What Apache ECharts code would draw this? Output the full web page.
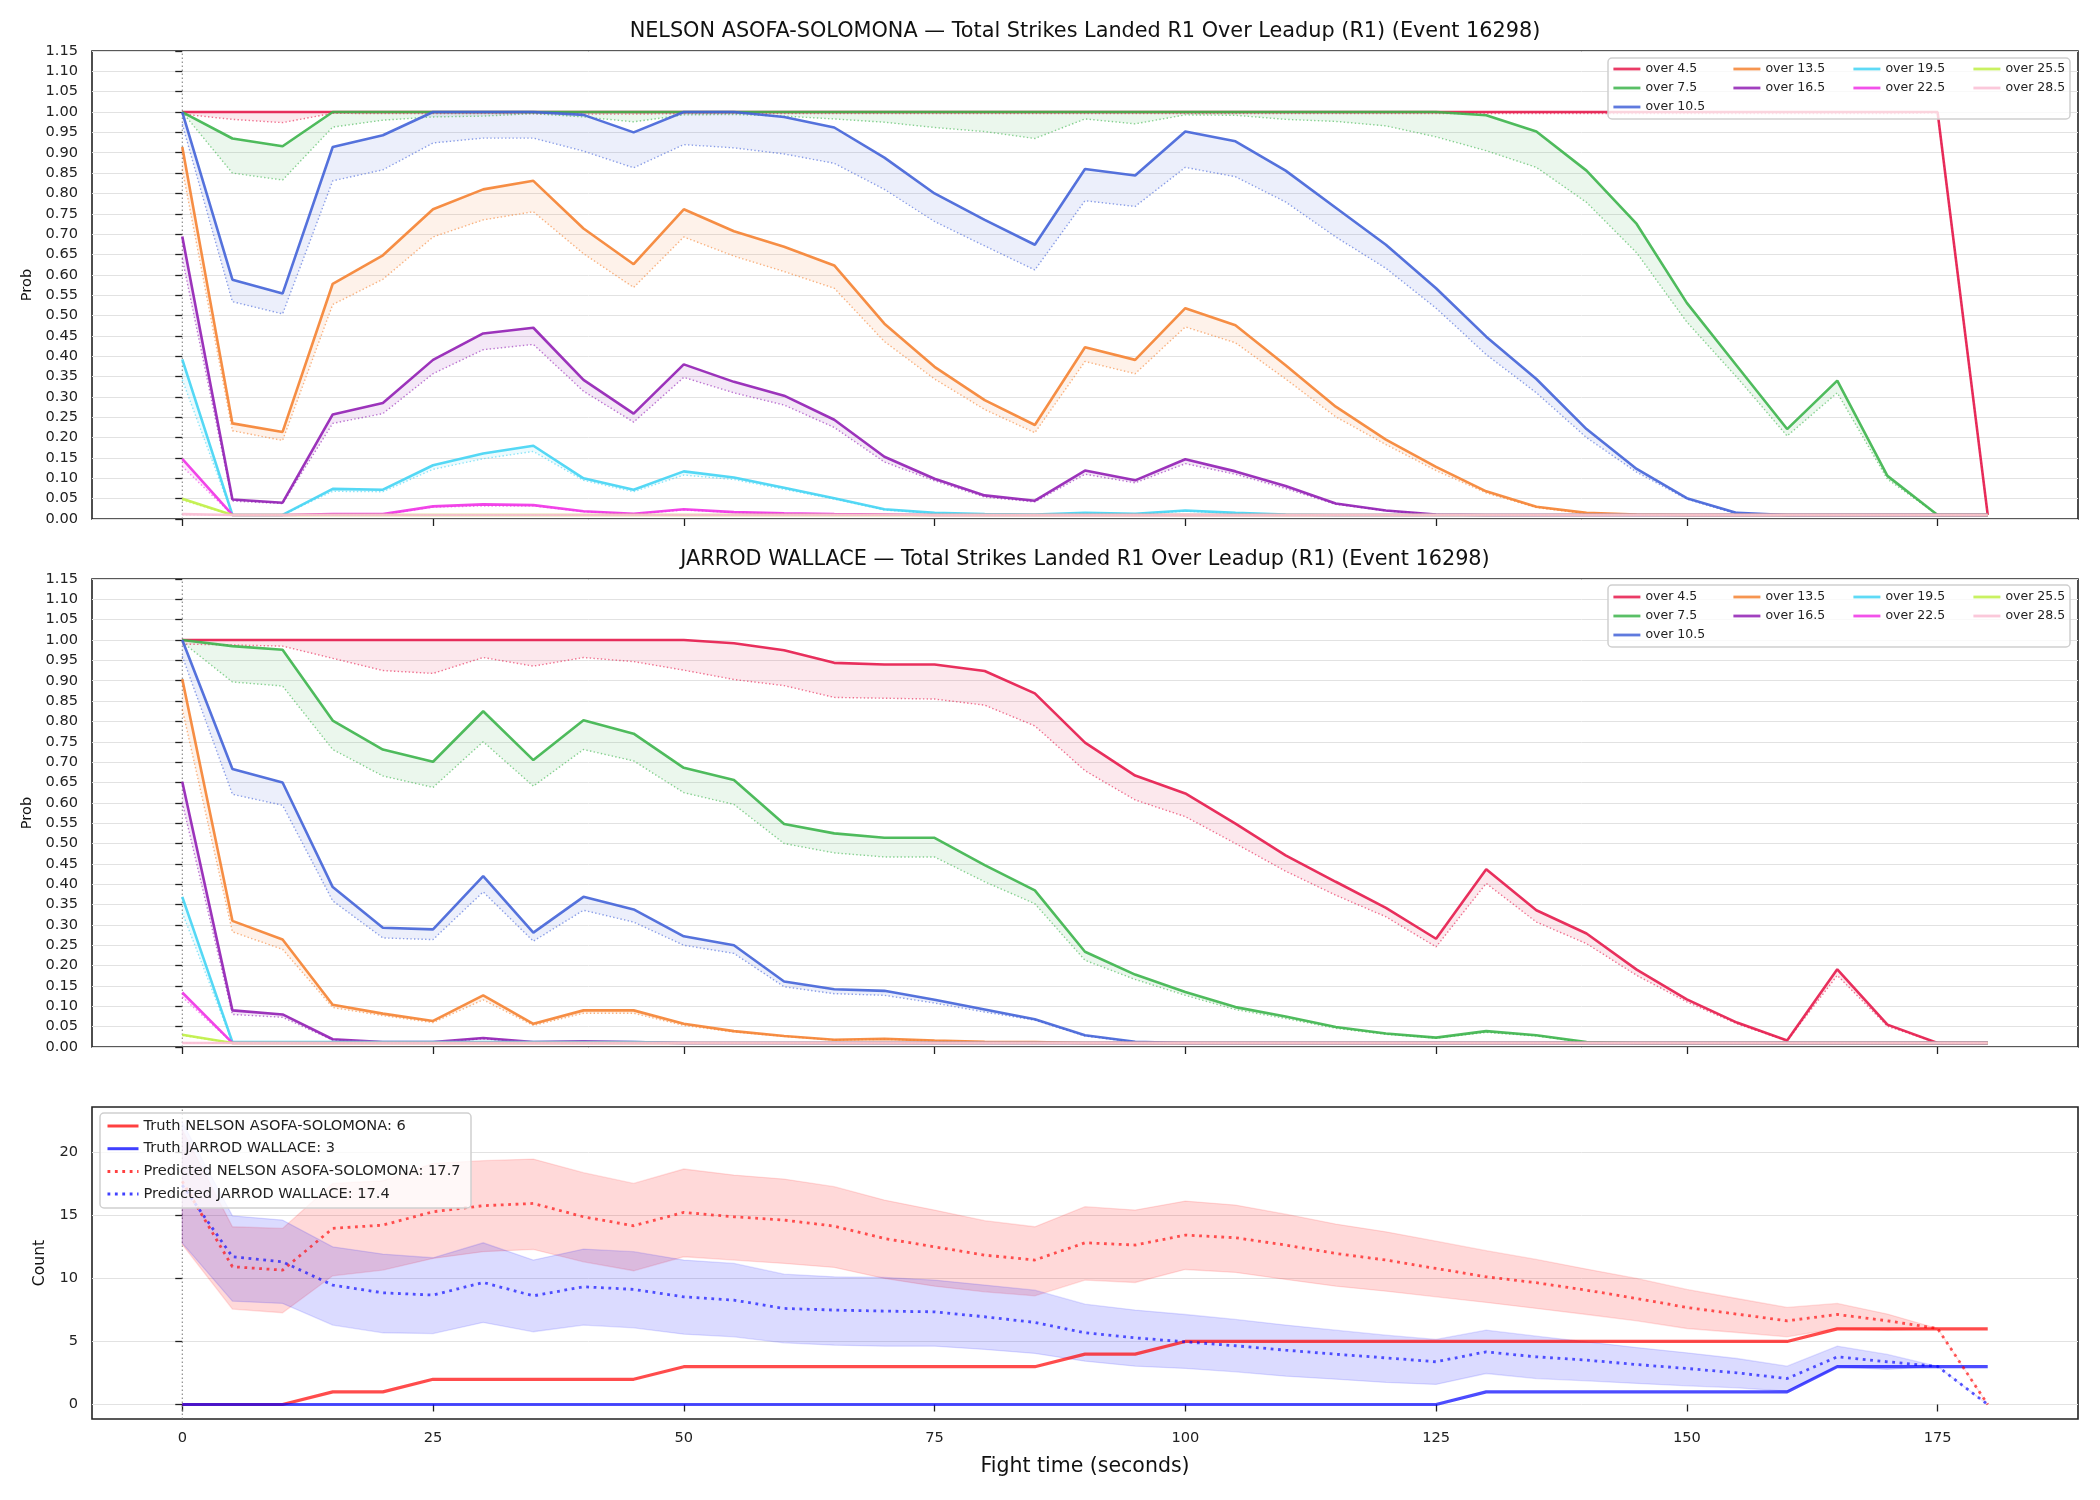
<!DOCTYPE html>
<html><head><meta charset="utf-8">
<script src="https://cdn.jsdelivr.net/npm/echarts@6/dist/echarts.min.js"></script>
<style>html,body{margin:0;padding:0;background:#fff}#c{width:2100px;height:1500px}</style>
</head><body><div id="c"></div>
<script>
// ---------- DATA ----------
const T = [0,5,10,15,20,25,30,35,40,45,50,55,60,65,70,75,80,85,90,95,100,105,110,115,120,125,130,135,140,145,150,155,160,165,170,175,180];
const THRESH = ['over 4.5','over 7.5','over 10.5','over 13.5','over 16.5','over 19.5','over 22.5','over 25.5','over 28.5'];

// NELSON ASOFA-SOLOMONA (solid = s, dotted = d)
const nel45s = [1,1,1,1,1,1,1,1,1,1, 1,1,1,1,1,1,1,1,1,1, 1,1,1,1,1,1,1,1,1,1, 1,1,1,1,1,1,0.01];
const nel45d = [0.995,0.982,0.974,0.997,0.996,0.996,0.996,0.996,0.995,0.995, 0.996,0.996,0.996,0.996,0.996,0.996,0.996,0.996,0.996,0.996, 0.996,0.996,0.996,0.996,0.996,0.996,0.996,0.996,0.996,0.996, 0.996,0.996,0.996,0.996,0.996,0.998,0.01];
const nel75s = [1,0.935,0.916,1,1,1,1,1,1,1, 1,1,1,1,1,1,1,1,1,1, 1,1,1,1,1,1,0.992,0.952,0.856,0.725, 0.531,0.376,0.221,0.34,0.106,0.01,0.01];
const nel75d = [1,0.85,0.833,0.963,0.98,0.988,0.99,0.996,0.988,0.976, 0.993,0.994,0.99,0.983,0.975,0.962,0.952,0.935,0.983,0.971, 0.993,0.992,0.982,0.977,0.966,0.939,0.905,0.864,0.778,0.654, 0.484,0.348,0.204,0.31,0.098,0.01,0.01];
const nel105s = [1,0.588,0.554,0.914,0.943,1,1,1,0.993,0.95, 1,1,0.988,0.962,0.888,0.8,0.735,0.674,0.86,0.844, 0.952,0.928,0.856,0.765,0.674,0.567,0.448,0.344,0.221,0.123, 0.051,0.015,0.01,0.01,0.01,0.01,0.01];
const nel105d = [0.97,0.534,0.504,0.831,0.858,0.924,0.936,0.936,0.904,0.863, 0.92,0.912,0.897,0.874,0.81,0.731,0.671,0.612,0.782,0.768, 0.864,0.841,0.779,0.693,0.616,0.518,0.404,0.31,0.2,0.115, 0.049,0.012,0.01,0.01,0.01,0.01,0.01];
const nel135s = [0.914,0.235,0.214,0.578,0.648,0.761,0.81,0.831,0.714,0.626, 0.761,0.707,0.669,0.623,0.48,0.374,0.292,0.231,0.422,0.391, 0.518,0.476,0.378,0.276,0.195,0.128,0.068,0.03,0.015,0.011, 0.01,0.01,0.01,0.01,0.01,0.01,0.01];
const nel135d = [0.86,0.217,0.193,0.527,0.589,0.693,0.735,0.755,0.652,0.569, 0.693,0.646,0.608,0.567,0.436,0.344,0.269,0.212,0.387,0.357, 0.472,0.433,0.344,0.251,0.183,0.119,0.064,0.028,0.013,0.01, 0.01,0.01,0.01,0.01,0.01,0.01,0.01];
const nel165s = [0.694,0.048,0.04,0.257,0.285,0.391,0.456,0.47,0.342,0.259, 0.38,0.337,0.303,0.244,0.153,0.099,0.058,0.045,0.119,0.095, 0.147,0.117,0.081,0.038,0.021,0.011,0.01,0.01,0.01,0.01, 0.01,0.01,0.01,0.01,0.01,0.01,0.01];
const nel165d = [0.64,0.044,0.038,0.235,0.259,0.357,0.416,0.429,0.314,0.238, 0.348,0.31,0.28,0.225,0.14,0.094,0.054,0.042,0.11,0.089, 0.136,0.11,0.075,0.036,0.02,0.011,0.01,0.01,0.01,0.01, 0.01,0.01,0.01,0.01,0.01,0.01,0.01];
const nel195s = [0.392,0.01,0.01,0.074,0.072,0.132,0.161,0.18,0.1,0.072, 0.117,0.102,0.077,0.051,0.024,0.015,0.012,0.011,0.015,0.013, 0.021,0.015,0.011,0.01,0.01,0.01,0.01,0.01,0.01,0.01, 0.01,0.01,0.01,0.01,0.01,0.01,0.01];
const nel195d = [0.342,0.01,0.01,0.068,0.067,0.122,0.148,0.166,0.095,0.067, 0.108,0.097,0.073,0.049,0.022,0.014,0.011,0.01,0.014,0.012, 0.019,0.014,0.01,0.01,0.01,0.01,0.01,0.01,0.01,0.01, 0.01,0.01,0.01,0.01,0.01,0.01,0.01];
const nel225s = [0.148,0.01,0.01,0.012,0.012,0.031,0.036,0.034,0.019,0.013, 0.024,0.017,0.014,0.012,0.011,0.01,0.01,0.01,0.01,0.01, 0.01,0.01,0.01,0.01,0.01,0.01,0.01,0.01,0.01,0.01, 0.01,0.01,0.01,0.01,0.01,0.01,0.01];
const nel225d = [0.129,0.01,0.01,0.011,0.011,0.029,0.032,0.032,0.018,0.012, 0.022,0.016,0.013,0.011,0.01,0.01,0.01,0.01,0.01,0.01, 0.01,0.01,0.01,0.01,0.01,0.01,0.01,0.01,0.01,0.01, 0.01,0.01,0.01,0.01,0.01,0.01,0.01];
const nel255s = [0.05,0.01,0.01,0.01,0.01,0.01,0.01,0.01,0.01,0.01, 0.01,0.01,0.01,0.01,0.01,0.01,0.01,0.01,0.01,0.01, 0.01,0.01,0.01,0.01,0.01,0.01,0.01,0.01,0.01,0.01, 0.01,0.01,0.01,0.01,0.01,0.01,0.01];
const nel255d = [0.046,0.01,0.01,0.01,0.01,0.01,0.01,0.01,0.01,0.01, 0.01,0.01,0.01,0.01,0.01,0.01,0.01,0.01,0.01,0.01, 0.01,0.01,0.01,0.01,0.01,0.01,0.01,0.01,0.01,0.01, 0.01,0.01,0.01,0.01,0.01,0.01,0.01];
const nel285s = [0.012,0.01,0.01,0.01,0.01,0.01,0.01,0.01,0.01,0.01, 0.01,0.01,0.01,0.01,0.01,0.01,0.01,0.01,0.01,0.01, 0.01,0.01,0.01,0.01,0.01,0.01,0.01,0.01,0.01,0.01, 0.01,0.01,0.01,0.01,0.01,0.01,0.01];
const nel285d = [0.01,0.01,0.01,0.01,0.01,0.01,0.01,0.01,0.01,0.01, 0.01,0.01,0.01,0.01,0.01,0.01,0.01,0.01,0.01,0.01, 0.01,0.01,0.01,0.01,0.01,0.01,0.01,0.01,0.01,0.01, 0.01,0.01,0.01,0.01,0.01,0.01,0.01];

// JARROD WALLACE
const jar45s = [1,1,1,1,1,1,1,1,1,1, 1,0.992,0.975,0.944,0.94,0.94,0.924,0.869,0.748,0.667, 0.623,0.549,0.471,0.406,0.342,0.266,0.437,0.336,0.279,0.19, 0.117,0.06,0.016,0.191,0.055,0.01,0.01];
const jar45d = [0.99,0.988,0.985,0.955,0.925,0.918,0.957,0.936,0.957,0.947, 0.926,0.903,0.888,0.859,0.857,0.855,0.84,0.789,0.679,0.607, 0.566,0.5,0.432,0.373,0.32,0.246,0.402,0.307,0.254,0.176, 0.111,0.057,0.015,0.176,0.051,0.01,0.01];
const jar75s = [1,0.985,0.976,0.802,0.731,0.701,0.825,0.705,0.803,0.77, 0.686,0.656,0.548,0.525,0.514,0.514,0.447,0.385,0.234,0.178, 0.135,0.098,0.075,0.049,0.033,0.023,0.039,0.029,0.012,0.01, 0.01,0.01,0.01,0.01,0.01,0.01,0.01];
const jar75d = [0.995,0.897,0.887,0.731,0.666,0.638,0.75,0.641,0.731,0.703, 0.625,0.596,0.5,0.477,0.467,0.467,0.406,0.352,0.213,0.166, 0.127,0.092,0.07,0.046,0.031,0.022,0.036,0.027,0.011,0.01, 0.01,0.01,0.01,0.01,0.01,0.01,0.01];
const jar105s = [1,0.683,0.65,0.393,0.293,0.289,0.42,0.281,0.369,0.338, 0.272,0.25,0.161,0.142,0.138,0.116,0.092,0.068,0.029,0.013, 0.01,0.01,0.01,0.01,0.01,0.01,0.01,0.01,0.01,0.01, 0.01,0.01,0.01,0.01,0.01,0.01,0.01];
const jar105d = [0.96,0.621,0.594,0.359,0.268,0.264,0.381,0.26,0.336,0.307, 0.25,0.23,0.148,0.131,0.127,0.108,0.086,0.066,0.027,0.012, 0.01,0.01,0.01,0.01,0.01,0.01,0.01,0.01,0.01,0.01, 0.01,0.01,0.01,0.01,0.01,0.01,0.01];
const jar135s = [0.904,0.31,0.264,0.104,0.082,0.064,0.127,0.057,0.09,0.09, 0.057,0.039,0.027,0.018,0.02,0.016,0.013,0.012,0.01,0.01, 0.01,0.01,0.01,0.01,0.01,0.01,0.01,0.01,0.01,0.01, 0.01,0.01,0.01,0.01,0.01,0.01,0.01];
const jar135d = [0.83,0.283,0.24,0.097,0.077,0.06,0.116,0.053,0.083,0.083, 0.053,0.037,0.026,0.017,0.019,0.015,0.012,0.011,0.01,0.01, 0.01,0.01,0.01,0.01,0.01,0.01,0.01,0.01,0.01,0.01, 0.01,0.01,0.01,0.01,0.01,0.01,0.01];
const jar165s = [0.652,0.09,0.08,0.019,0.012,0.012,0.022,0.012,0.014,0.012, 0.01,0.01,0.01,0.01,0.01,0.01,0.01,0.01,0.01,0.01, 0.01,0.01,0.01,0.01,0.01,0.01,0.01,0.01,0.01,0.01, 0.01,0.01,0.01,0.01,0.01,0.01,0.01];
const jar165d = [0.6,0.08,0.073,0.017,0.011,0.011,0.02,0.011,0.013,0.011, 0.01,0.01,0.01,0.01,0.01,0.01,0.01,0.01,0.01,0.01, 0.01,0.01,0.01,0.01,0.01,0.01,0.01,0.01,0.01,0.01, 0.01,0.01,0.01,0.01,0.01,0.01,0.01];
const jar195s = [0.369,0.012,0.012,0.012,0.012,0.012,0.012,0.012,0.012,0.012, 0.01,0.01,0.01,0.01,0.01,0.01,0.01,0.01,0.01,0.01, 0.01,0.01,0.01,0.01,0.01,0.01,0.01,0.01,0.01,0.01, 0.01,0.01,0.01,0.01,0.01,0.01,0.01];
const jar195d = [0.33,0.011,0.011,0.011,0.011,0.011,0.011,0.011,0.011,0.011, 0.01,0.01,0.01,0.01,0.01,0.01,0.01,0.01,0.01,0.01, 0.01,0.01,0.01,0.01,0.01,0.01,0.01,0.01,0.01,0.01, 0.01,0.01,0.01,0.01,0.01,0.01,0.01];
const jar225s = [0.134,0.01,0.01,0.01,0.01,0.01,0.01,0.01,0.01,0.01, 0.01,0.01,0.01,0.01,0.01,0.01,0.01,0.01,0.01,0.01, 0.01,0.01,0.01,0.01,0.01,0.01,0.01,0.01,0.01,0.01, 0.01,0.01,0.01,0.01,0.01,0.01,0.01];
const jar225d = [0.123,0.01,0.01,0.01,0.01,0.01,0.01,0.01,0.01,0.01, 0.01,0.01,0.01,0.01,0.01,0.01,0.01,0.01,0.01,0.01, 0.01,0.01,0.01,0.01,0.01,0.01,0.01,0.01,0.01,0.01, 0.01,0.01,0.01,0.01,0.01,0.01,0.01];
const jar255s = [0.03,0.01,0.01,0.01,0.01,0.01,0.01,0.01,0.01,0.01, 0.01,0.01,0.01,0.01,0.01,0.01,0.01,0.01,0.01,0.01, 0.01,0.01,0.01,0.01,0.01,0.01,0.01,0.01,0.01,0.01, 0.01,0.01,0.01,0.01,0.01,0.01,0.01];
const jar255d = [0.028,0.01,0.01,0.01,0.01,0.01,0.01,0.01,0.01,0.01, 0.01,0.01,0.01,0.01,0.01,0.01,0.01,0.01,0.01,0.01, 0.01,0.01,0.01,0.01,0.01,0.01,0.01,0.01,0.01,0.01, 0.01,0.01,0.01,0.01,0.01,0.01,0.01];
const jar285s = [0.01,0.01,0.01,0.01,0.01,0.01,0.01,0.01,0.01,0.01, 0.01,0.01,0.01,0.01,0.01,0.01,0.01,0.01,0.01,0.01, 0.01,0.01,0.01,0.01,0.01,0.01,0.01,0.01,0.01,0.01, 0.01,0.01,0.01,0.01,0.01,0.01,0.01];
const jar285d = [0.01,0.01,0.01,0.01,0.01,0.01,0.01,0.01,0.01,0.01, 0.01,0.01,0.01,0.01,0.01,0.01,0.01,0.01,0.01,0.01, 0.01,0.01,0.01,0.01,0.01,0.01,0.01,0.01,0.01,0.01, 0.01,0.01,0.01,0.01,0.01,0.01,0.01];

// Counts panel
const truthNel = [0,0,0,1,1,2,2,2,2,2, 3,3,3,3,3,3,3,3,4,4, 5,5,5,5,5,5,5,5,5,5, 5,5,5,6,6,6,6];
const truthJar = [0,0,0,0,0,0,0,0,0,0, 0,0,0,0,0,0,0,0,0,0, 0,0,0,0,0,0,1,1,1,1, 1,1,1,3,3,3,3];
const predNel = [17.7,10.93,10.66,13.97,14.23,15.29,15.77,15.95,14.89,14.18, 15.24,14.89,14.63,14.15,13.17,12.51,11.85,11.46,12.83,12.65, 13.44,13.23,12.65,11.98,11.46,10.79,10.13,9.66,9.07,8.41, 7.7,7.17,6.64,7.14,6.64,6.03,0];
const predNelHi = [21.8,14.1,13.97,17.54,17.75,19.13,19.34,19.47,18.39,17.54, 18.68,18.2,17.88,17.28,16.22,15.42,14.58,14.1,15.69,15.42, 16.14,15.82,15.1,14.31,13.7,12.96,12.2,11.51,10.74,10.0, 9.13,8.41,7.7,8.02,7.17,6.03,0];
const predNelLo = [12.7,7.57,7.28,10.21,10.66,11.59,12.12,12.3,11.32,10.61, 11.72,11.46,11.19,10.87,10.0,9.39,8.94,8.62,9.87,9.68, 10.71,10.48,9.92,9.39,8.99,8.54,8.1,7.62,7.14,6.64, 6.03,5.71,5.37,6.03,5.9,6.03,0];
const predJar = [17.4,11.72,11.32,9.47,8.86,8.68,9.68,8.62,9.34,9.13, 8.54,8.28,7.62,7.49,7.41,7.35,6.96,6.51,5.69,5.29, 4.97,4.66,4.31,3.99,3.7,3.39,4.18,3.78,3.52,3.17, 2.86,2.51,2.06,3.78,3.39,3.02,0];
const predJarHi = [22.4,14.97,14.63,12.51,11.93,11.64,12.83,11.46,12.33,12.12, 11.46,11.19,10.34,10.13,10.08,9.87,9.47,9.07,7.96,7.49, 7.14,6.75,6.3,5.9,5.5,5.16,5.9,5.42,4.97,4.52, 4.1,3.65,3.04,4.63,3.97,3.02,0];
const predJarLo = [12.8,8.2,8.02,6.3,5.69,5.63,6.51,5.77,6.3,6.08, 5.58,5.37,4.89,4.71,4.63,4.63,4.37,4.05,3.44,3.04, 2.86,2.59,2.25,2.01,1.75,1.59,2.46,2.06,1.88,1.67, 1.48,1.32,1.06,2.99,2.78,3.02,0];

const X_TICKS = [0,25,50,75,100,125,150,175];
const COUNT_TICKS = [0,5,10,15,20];
const TITLES = ['NELSON ASOFA-SOLOMONA — Total Strikes Landed R1 Over Leadup (R1) (Event 16298)',
                'JARROD WALLACE — Total Strikes Landed R1 Over Leadup (R1) (Event 16298)'];
const BOTTOM_NAMES = ['Truth NELSON ASOFA-SOLOMONA: 6','Truth JARROD WALLACE: 3','Predicted NELSON ASOFA-SOLOMONA: 17.7','Predicted JARROD WALLACE: 17.4'];

// ---------- STYLE ----------
const COLORS = ['#e6194B','#3cb44b','#4363d8','#f58231','#911eb4','#42d4f4','#f032e6','#bfef45','#fabed4'];
const FONT = 'DejaVu Sans';
const NEL_S = [nel45s,nel75s,nel105s,nel135s,nel165s,nel195s,nel225s,nel255s,nel285s];
const NEL_D = [nel45d,nel75d,nel105d,nel135d,nel165d,nel195d,nel225d,nel255d,nel285d];
const JAR_S = [jar45s,jar75s,jar105s,jar135s,jar165s,jar195s,jar225s,jar255s,jar285s];
const JAR_D = [jar45d,jar75d,jar105d,jar135d,jar165d,jar195d,jar225d,jar255d,jar285d];

function hexA(hex, a){
  const r=parseInt(hex.slice(1,3),16), g=parseInt(hex.slice(3,5),16), b=parseInt(hex.slice(5,7),16);
  return 'rgba('+r+','+g+','+b+','+a+')';
}
function lineSeries(name, vals, gi, color, width, opacity, type, z){
  return {type:'line', name:name, xAxisIndex:gi, yAxisIndex:gi,
    data:T.map((t,i)=>[t, vals[i]]), symbol:'none', showSymbol:false, silent:true, animation:false, z:z,
    color:color, itemStyle:{color:color}, lineStyle:{color:color, width:width, opacity:opacity, type:type, cap:'butt'},
    emphasis:{disabled:true}};
}
function bandSeries(gi, lo, hi, fill, stroke, z){
  return {type:'custom', xAxisIndex:gi, yAxisIndex:gi, silent:true, animation:false, z:z, data:[[0,0]],
    renderItem:function(params, api){
      const pts=[];
      for(let k=0;k<T.length;k++) pts.push(api.coord([T[k], hi[k]]));
      for(let k=T.length-1;k>=0;k--) pts.push(api.coord([T[k], lo[k]]));
      return {type:'polygon', shape:{points:pts}, style:{fill:fill, stroke:stroke||null, lineWidth:stroke?1.3:0}};
    }};
}
function vline(gi, y0, y1){
  return {type:'line', xAxisIndex:gi, yAxisIndex:gi, data:[[0,y0],[0,y1]], symbol:'none', silent:true, animation:false, z:1,
    lineStyle:{color:'#777', width:1, type:[1.5,2.5]}, emphasis:{disabled:true}};
}
function r1(gi, y){
  return {type:'scatter', xAxisIndex:gi, yAxisIndex:gi, data:[[2.1,y]], symbolSize:1, silent:true, animation:false, z:1,
    itemStyle:{opacity:0}, label:{show:true, formatter:'R1', position:'right', distance:0, fontSize:16, color:'#777', fontFamily:FONT}};
}

const series = [];
[[NEL_S,NEL_D],[JAR_S,JAR_D]].forEach(([S,D], gi)=>{
  series.push(vline(gi, 0, 1.15));
  series.push(r1(gi, 1.096));
  for(let k=0;k<THRESH.length;k++){
    series.push(bandSeries(gi, D[k], S[k], hexA(COLORS[k],0.1), null, 2));
    series.push(lineSeries(THRESH[k], S[k], gi, COLORS[k], 2.6, 0.9, 'solid', 3));
    series.push(lineSeries('', D[k], gi, COLORS[k], 1.4, 0.6, [1.4,2.3], 3));
  }
});
series.push(vline(2, -1.15, 23.6));
series.push(r1(2, 22.6));
series.push(bandSeries(2, predNelLo, predNelHi, 'rgba(255,0,0,0.15)', 'rgba(255,0,0,0.12)', 2));
series.push(bandSeries(2, predJarLo, predJarHi, 'rgba(0,0,255,0.14)', 'rgba(0,0,255,0.12)', 2));
series.push(lineSeries(BOTTOM_NAMES[0], truthNel, 2, '#ff0000', 3.2, 0.7, 'solid', 3));
series.push(lineSeries(BOTTOM_NAMES[1], truthJar, 2, '#0000ff', 3.2, 0.7, 'solid', 3));
series.push(lineSeries(BOTTOM_NAMES[2], predNel, 2, '#ff0000', 2.8, 0.65, [2.8,4.6], 3));
series.push(lineSeries(BOTTOM_NAMES[3], predJar, 2, '#0000ff', 2.8, 0.65, [2.8,4.6], 3));

// ---------- LAYOUT ----------
const PL = 92, PW = 1986;
const grids = [
  {left:PL, top:51, width:PW, height:468},
  {left:PL, top:579, width:PW, height:468},
  {left:PL, top:1107, width:PW, height:312}
].map(g=>Object.assign(g,{show:true, borderColor:'#222', borderWidth:1.6, backgroundColor:'rgba(0,0,0,0)', containLabel:false}));

const tickStyle = {show:true, length:7, inside:false, lineStyle:{color:'#222', width:1.3}};
const xAxes = [0,1,2].map(i=>({type:'value', gridIndex:i, min:-9, max:189,
  axisLine:{show:false}, splitLine:{show:false},
  axisTick:Object.assign({customValues:X_TICKS}, tickStyle),
  axisLabel:{show:i===2, customValues:X_TICKS, fontSize:14.6, color:'#222', margin:12, fontFamily:FONT},
  name: i===2 ? 'Fight time (seconds)' : '', nameLocation:'middle', nameGap:37,
  nameTextStyle:{fontSize:20.5, color:'#111', fontFamily:FONT}}));
const yAxes = [0,1].map(i=>({type:'value', gridIndex:i, min:0, max:1.15, interval:0.05,
  axisLine:{show:false}, axisTick:tickStyle,
  axisLabel:{fontSize:14.6, color:'#222', margin:14, fontFamily:FONT, formatter:v=>v.toFixed(2)},
  splitLine:{show:true, lineStyle:{color:'#e2e2e2', width:1}},
  name:'Prob', nameLocation:'middle', nameGap:56, nameTextStyle:{fontSize:14.6, color:'#111', fontFamily:FONT}}));
yAxes.push({type:'value', gridIndex:2, min:-1.15, max:23.6,
  axisLine:{show:false}, axisTick:Object.assign({customValues:COUNT_TICKS}, tickStyle),
  axisLabel:{customValues:COUNT_TICKS, fontSize:14.6, color:'#222', margin:14, fontFamily:FONT},
  splitLine:{show:true, lineStyle:{color:'#e2e2e2', width:1}},
  name:'Count', nameLocation:'middle', nameGap:44, nameTextStyle:{fontSize:15.6, color:'#111', fontFamily:FONT}});

const hiddenSymbol = {color:'rgba(0,0,0,0)', borderWidth:0, opacity:0};
const LEG_COLS = [[0,1,2],[3,4],[5,6],[7,8]];
const LEG_X = [1612,1732,1852,1972];
const legends = [];
[62,590].forEach(top=>LEG_COLS.forEach((col,ci)=>legends.push({
  orient:'vertical', left:LEG_X[ci], top:top, padding:0, itemGap:5, itemWidth:27, itemHeight:14, itemTextGap:9,
  selectedMode:false, z:10, data:col.map(k=>THRESH[k]), itemStyle:hiddenSymbol,
  lineStyle:{width:2.8, type:'inherit', opacity:0.85},
  textStyle:{fontSize:12.5, lineHeight:14, color:'#222', fontFamily:FONT}})));
legends.push({orient:'vertical', left:106, top:1117.5, padding:0, itemGap:5.7, itemWidth:31, itemHeight:17, itemTextGap:10,
  selectedMode:false, z:10, data:BOTTOM_NAMES, itemStyle:hiddenSymbol,
  lineStyle:{width:3, type:'inherit', opacity:0.75},
  textStyle:{fontSize:14.6, lineHeight:17, color:'#222', fontFamily:FONT}});

const frameStyle = {fill:'rgba(255,255,255,0.8)', stroke:'#cfcfcf', lineWidth:1.5};
const graphic = [
  {type:'rect', z:5, shape:{x:1608, y:58, width:462, height:61, r:4}, style:frameStyle},
  {type:'rect', z:5, shape:{x:1608, y:585, width:462, height:62, r:4}, style:frameStyle},
  {type:'rect', z:5, shape:{x:100, y:1113, width:371, height:95, r:4}, style:frameStyle},
  {type:'text', z:10, x:PL+PW/2, y:32, style:{text:TITLES[0], textAlign:'center', textVerticalAlign:'middle', fontSize:20.8, fontFamily:FONT, fill:'#111'}},
  {type:'text', z:10, x:PL+PW/2, y:560, style:{text:TITLES[1], textAlign:'center', textVerticalAlign:'middle', fontSize:20.8, fontFamily:FONT, fill:'#111'}}
];

const chart = echarts.init(document.getElementById('c'), null, {renderer:'canvas', width:2100, height:1500});
chart.setOption({
  animation:false, backgroundColor:'#ffffff',
  textStyle:{fontFamily:FONT},
  grid:grids, xAxis:xAxes, yAxis:yAxes, legend:legends, graphic:graphic, series:series,
  tooltip:{show:false}
});
</script>
</body></html>
